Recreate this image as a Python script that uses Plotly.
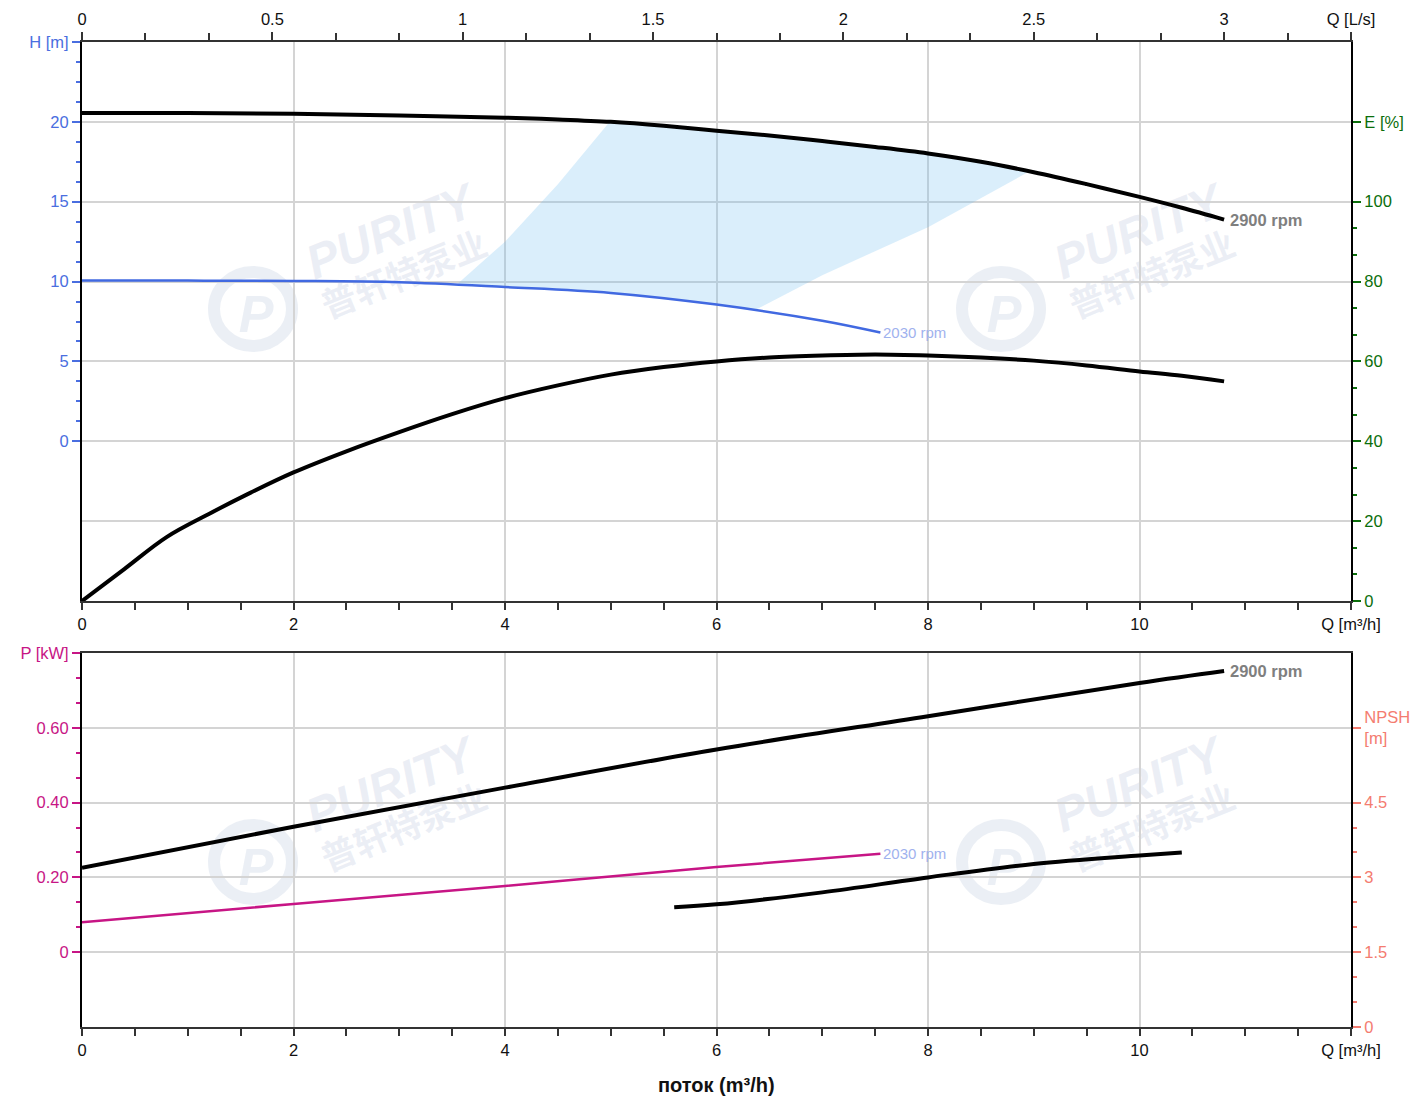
import numpy as np
import plotly.graph_objects as go

# ---------------- data ----------------
q_h2900 = [0, 1, 2, 3, 4, 4.5, 5, 5.5, 6, 6.5, 7, 7.5, 8, 8.5, 9, 9.5, 10, 10.4, 10.8]
h_2900 = [20.56, 20.55, 20.5, 20.4, 20.26, 20.15, 20.0, 19.75, 19.44, 19.15, 18.8, 18.43,
          18.02, 17.5, 16.85, 16.1, 15.3, 14.62, 13.88]

q_h2030 = [0, 1, 2, 3, 4, 5, 6, 7, 7.55]
h_2030 = [10.06, 10.06, 10.04, 9.96, 9.66, 9.29, 8.56, 7.55, 6.81]

q_eff = [0, 0.4, 0.8, 1.2, 1.6, 2, 2.5, 3, 3.5, 4, 4.5, 5, 5.5, 6, 6.5, 7, 7.5, 8, 8.5,
         9, 9.5, 10, 10.4, 10.8]
eff = [0, 8, 16, 21.8, 27.2, 32.2, 37.5, 42.3, 46.8, 50.8, 54, 56.7, 58.6, 60, 61, 61.5,
       61.75, 61.5, 61, 60.2, 59, 57.5, 56.4, 55]

q_p2900 = [0, 2, 4, 6, 8, 10, 10.8]
p_2900 = [0.2255, 0.3356, 0.44, 0.542, 0.631, 0.72, 0.752]

q_p2030 = [0, 2, 4, 6, 7.55]
p_2030 = [0.08, 0.129, 0.177, 0.228, 0.263]

q_npsh = [5.6, 6, 7, 8, 9, 10, 10.4]
npsh = [2.40, 2.46, 2.70, 3.0, 3.27, 3.44, 3.50]

# operating region (outline, Q [m3/h], H [m])
region_q = [3.55, 4.0, 4.5, 4.99, 6.0, 7.0, 8.0, 8.96, 8.0, 7.0, 6.36, 6.0, 5.0, 4.0, 3.55]
region_h = [9.85, 12.5, 16.1, 20.0, 19.44, 18.8, 18.02, 16.9, 13.4, 10.4, 8.2, 8.56, 9.29, 9.66, 9.85]

M3H_PER_LS = 3.6

# tick labels
x_ticks = [0, 2, 4, 6, 8, 10, 12]
x_ticktext = ["0", "2", "4", "6", "8", "10", "Q [m³/h]"]
ls_ticks = [0, 0.5, 1, 1.5, 2, 2.5, 3, 12 / M3H_PER_LS]
ls_ticktext = ["0", "0.5", "1", "1.5", "2", "2.5", "3", "Q [L/s]"]
h_ticks = [0, 5, 10, 15, 20, 25]
h_ticktext = ["0", "5", "10", "15", "20", "H [m]"]
e_ticks = [0, 20, 40, 60, 80, 100, 120]
e_ticktext = ["0", "20", "40", "60", "80", "100", "E [%]"]
p_ticks = [0, 0.2, 0.4, 0.6, 0.8]
p_ticktext = ["0", "0.20", "0.40", "0.60", "P [kW]"]
n_ticks = [0, 1.5, 3, 4.5, 6]
n_ticktext = ["0", "1.5", "3", "4.5", "NPSH<br>[m]"]

# ---------------- styling ----------------
FONT = "Arial, Liberation Sans, sans-serif"
C_H = "#4a6ee0"
C_E = "#0b6e0b"
C_P = "#c71585"
C_N = "#f47c70"
GRID = "#d4d4d4"
FILL = "rgba(107,187,239,0.25)"
WM = "rgba(175,190,215,0.25)"
TS = 16.5

# page body adds an 8px offset; margins chosen so plot sits at x 82..1351, y 42..1027
ML, MR, MT, MB = 74, 81, 34, 84
PLOT_L, PLOT_B, PLOT_W, PLOT_H = 82, 1027, 1269, 985

fig = go.Figure()

fig.add_trace(go.Scatter(x=region_q, y=region_h, mode="lines", fill="toself",
                         fillcolor=FILL, line=dict(width=0), hoverinfo="skip",
                         xaxis="x", yaxis="y"))
fig.add_trace(go.Scatter(x=q_h2030, y=h_2030, mode="lines",
                         line=dict(color="#4169e1", width=2.5, shape="spline", smoothing=1.0),
                         xaxis="x", yaxis="y"))
fig.add_trace(go.Scatter(x=q_h2900, y=h_2900, mode="lines",
                         line=dict(color="black", width=4, shape="spline", smoothing=1.0),
                         xaxis="x", yaxis="y"))
# same H curve expressed in L/s, invisible, so the top L/s axis is drawn
fig.add_trace(go.Scatter(x=[q / M3H_PER_LS for q in q_h2900], y=h_2900, mode="lines",
                         line=dict(width=0, color="rgba(0,0,0,0)"), hoverinfo="skip",
                         xaxis="x2", yaxis="y"))
fig.add_trace(go.Scatter(x=q_eff, y=eff, mode="lines",
                         line=dict(color="black", width=4, shape="spline", smoothing=1.0),
                         xaxis="x", yaxis="y2"))
fig.add_trace(go.Scatter(x=q_p2030, y=p_2030, mode="lines",
                         line=dict(color=C_P, width=2.5, shape="spline", smoothing=1.0),
                         xaxis="x3", yaxis="y3"))
fig.add_trace(go.Scatter(x=q_p2900, y=p_2900, mode="lines",
                         line=dict(color="black", width=4, shape="spline", smoothing=1.0),
                         xaxis="x3", yaxis="y3"))
fig.add_trace(go.Scatter(x=q_npsh, y=npsh, mode="lines",
                         line=dict(color="black", width=4, shape="spline", smoothing=1.0),
                         xaxis="x3", yaxis="y4"))

TOP_DOM = [(PLOT_B - 601) / PLOT_H, 1.0]
BOT_DOM = [0.0, (PLOT_B - 653) / PLOT_H]
tickfont = dict(family=FONT, size=TS, color="#111")


def xaxis_common(anchor):
    return dict(range=[0, 12], anchor=anchor, domain=[0, 1], automargin=False,
                tickmode="array", tickvals=x_ticks, ticktext=x_ticktext,
                ticks="outside", ticklen=7, tickwidth=1.5, tickcolor="#333",
                showgrid=True, gridcolor=GRID, gridwidth=1.5, zeroline=False,
                showline=True, linecolor="#333", linewidth=2,
                minor=dict(dtick=0.5, tick0=0, ticks="outside", ticklen=7,
                           tickwidth=1.5, tickcolor="#333", showgrid=False),
                tickfont=tickfont)


def yaxis_common(side, rng, dom, tv, tt, color, minor_vals, grid, overlay=None, anchor=None):
    d = dict(range=rng, domain=dom, side=side, automargin=False,
             tickmode="array", tickvals=tv, ticktext=tt,
             ticks="outside", ticklen=8, tickwidth=2, tickcolor=color,
             tickfont=dict(family=FONT, size=TS, color=color),
             showgrid=grid, gridcolor=GRID, gridwidth=1.5, zeroline=False,
             showline=True, linecolor="black", linewidth=2,
             minor=dict(tickmode="array", tickvals=minor_vals, ticks="outside",
                        ticklen=4, tickwidth=2, tickcolor=color, showgrid=False))
    if overlay:
        d["overlaying"] = overlay
    if anchor:
        d["anchor"] = anchor
    return d


h_minor = list(np.arange(0, 25.001, 1.25))
e_minor = list(np.arange(0, 100.001, 20 / 3))
p_minor = list(np.arange(0, 0.8001, 0.2 / 3))
n_minor = list(np.arange(0, 4.5001, 0.5))

xa2 = dict(range=[0, 12 / M3H_PER_LS], overlaying="x", anchor="y", side="top", automargin=False,
           tickmode="array", tickvals=ls_ticks, ticktext=ls_ticktext,
           ticks="outside", ticklen=8, tickwidth=1.5, tickcolor="#333",
           showgrid=False, zeroline=False, showline=True, linecolor="#333", linewidth=2,
           minor=dict(dtick=1 / 6, tick0=0, ticks="outside", ticklen=7,
                      tickwidth=1.5, tickcolor="#333", showgrid=False),
           tickfont=tickfont)

xa3 = xaxis_common("y3")
xa3["mirror"] = True

fig.update_layout(
    width=1424, height=1103,
    margin=dict(l=ML, r=MR, t=MT, b=MB, autoexpand=False),
    paper_bgcolor="white", plot_bgcolor="white",
    showlegend=False,
    font=dict(family=FONT),
    xaxis=xaxis_common("y"),
    xaxis2=xa2,
    xaxis3=xa3,
    yaxis=yaxis_common("left", [-10, 25], TOP_DOM, h_ticks, h_ticktext, C_H, h_minor, False, anchor="x"),
    yaxis2=yaxis_common("right", [0, 140], TOP_DOM, e_ticks, e_ticktext, C_E, e_minor, True, overlay="y", anchor="x"),
    yaxis3=yaxis_common("left", [-0.2, 0.8], BOT_DOM, p_ticks, p_ticktext, C_P, p_minor, False, anchor="x3"),
    yaxis4=yaxis_common("right", [0, 7.5], BOT_DOM, n_ticks, n_ticktext, C_N, n_minor, True, overlay="y3", anchor="x3"),
)

# speed labels
fig.add_annotation(x=q_h2900[-1], y=h_2900[-1], xref="x", yref="y", text="<b>2900 rpm</b>",
                   showarrow=False, xanchor="left", yanchor="middle", xshift=4,
                   font=dict(family=FONT, size=16.5, color="#7f7f7f"))
fig.add_annotation(x=q_h2030[-1], y=h_2030[-1], xref="x", yref="y", text="2030 rpm",
                   showarrow=False, xanchor="left", yanchor="middle", xshift=1,
                   font=dict(family=FONT, size=15, color="#9fb2ee"))
fig.add_annotation(x=q_p2900[-1], y=p_2900[-1], xref="x3", yref="y3", text="<b>2900 rpm</b>",
                   showarrow=False, xanchor="left", yanchor="middle", xshift=4,
                   font=dict(family=FONT, size=16.5, color="#7f7f7f"))
fig.add_annotation(x=q_p2030[-1], y=p_2030[-1], xref="x3", yref="y3", text="2030 rpm",
                   showarrow=False, xanchor="left", yanchor="middle", xshift=1,
                   font=dict(family=FONT, size=15, color="#9fb2ee"))

# x axis title
fig.add_annotation(x=0.5, y=(PLOT_B - 1085) / PLOT_H, xref="paper", yref="paper",
                   text="<b>поток (m³/h)</b>",
                   showarrow=False, xanchor="center", yanchor="middle",
                   font=dict(family=FONT, size=20, color="#111"))


# watermarks (below traces)
def px2paper(px, py):
    return (px - PLOT_L) / PLOT_W, (PLOT_B - py) / PLOT_H


def add_watermark(dx, dy):
    for (cx, cy, txt, size) in [(388 + dx, 227 + dy, "PURITY", 48),
                                (403 + dx, 272 + dy, "普轩特泵业", 35)]:
        x, y = px2paper(cx, cy)
        fig.add_shape(type="rect", xref="paper", yref="paper", layer="below",
                      x0=x - 0.001, x1=x + 0.001, y0=y - 0.001, y1=y + 0.001,
                      line=dict(width=0), fillcolor="rgba(0,0,0,0)",
                      label=dict(text=txt, textangle=-22, textposition="middle center",
                                 font=dict(family="Liberation Sans, Noto Sans CJK SC", size=size,
                                           color=WM, weight="bold",
                                           style="italic" if txt == "PURITY" else "normal")))
    x0, y0 = px2paper(214 + dx, 272 + dy)
    x1, y1 = px2paper(292 + dx, 346 + dy)
    fig.add_shape(type="circle", xref="paper", yref="paper", layer="below",
                  x0=x0, x1=x1, y0=y1, y1=y0, line=dict(color=WM, width=12))
    xc, yc = px2paper(256 + dx, 309 + dy)
    fig.add_shape(type="rect", xref="paper", yref="paper", layer="below",
                  x0=xc - 0.001, x1=xc + 0.001, y0=yc - 0.001, y1=yc + 0.001,
                  line=dict(width=0), fillcolor="rgba(0,0,0,0)",
                  label=dict(text="P", textposition="middle center",
                             font=dict(family="Liberation Sans", size=52, color=WM,
                                       weight="bold", style="italic")))


for dx, dy in [(0, 0), (748, 0), (0, 553), (748, 553)]:
    add_watermark(dx, dy)

fig.write_html("out.html")
